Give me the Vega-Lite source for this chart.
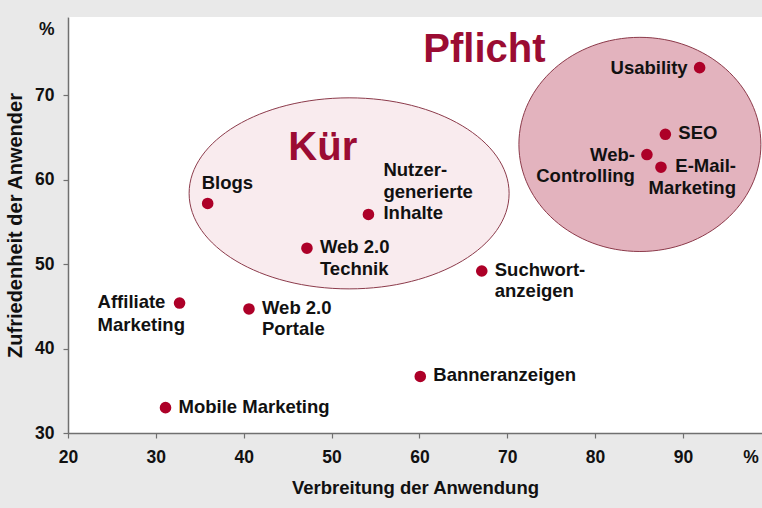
{
  "$schema": "https://vega.github.io/schema/vega-lite/v6.json",
  "width": 694,
  "height": 416,
  "autosize": "none",
  "padding": {"left": 68, "top": 17, "right": 0, "bottom": 75},
  "background": "#e9e9e9",
  "config": {
    "view": {"fill": "white", "stroke": null},
    "font": "Liberation Sans",
    "axis": {
      "domainColor": "#707070", "domainWidth": 1.5,
      "tickColor": "#707070", "tickSize": 5, "tickWidth": 1.2,
      "grid": false,
      "labelFont": "Liberation Sans", "labelFontSize": 17.5, "labelFontWeight": "bold", "labelColor": "#111",
      "titleFont": "Liberation Sans", "titleFontSize": 18.5, "titleFontWeight": "bold", "titleColor": "#111"
    }
  },
  "datasets": {
    "pts": [
      {"name": "Usability", "label": ["Usability"], "x": 91.9, "y": 73.3},
      {"name": "SEO", "label": ["SEO"], "x": 88.0, "y": 65.4},
      {"name": "Web-Controlling", "label": ["Web-", "Controlling"], "x": 85.9, "y": 63.0},
      {"name": "E-Mail-Marketing", "label": ["E-Mail-", "Marketing"], "x": 87.5, "y": 61.5},
      {"name": "Blogs", "label": ["Blogs"], "x": 35.9, "y": 57.2},
      {"name": "Nutzergenerierte Inhalte", "label": ["Nutzer-", "generierte", "Inhalte"], "x": 54.2, "y": 55.9},
      {"name": "Web 2.0 Technik", "label": ["Web 2.0", "Technik"], "x": 47.2, "y": 51.9},
      {"name": "Suchwortanzeigen", "label": ["Suchwort-", "anzeigen"], "x": 67.1, "y": 49.2},
      {"name": "Affiliate Marketing", "label": ["Affiliate", "Marketing"], "x": 32.7, "y": 45.4},
      {"name": "Web 2.0 Portale", "label": ["Web 2.0", "Portale"], "x": 40.6, "y": 44.7},
      {"name": "Banneranzeigen", "label": ["Banneranzeigen"], "x": 60.1, "y": 36.7},
      {"name": "Mobile Marketing", "label": ["Mobile Marketing"], "x": 31.1, "y": 33.0}
    ],
    "groups": [
      {"group": "Kür", "cx": 52.0, "cy": 58.4, "tx": 49.0, "ty": 63.8},
      {"group": "Pflicht", "cx": 85.1, "cy": 64.2, "tx": 67.4, "ty": 75.4}
    ]
  },
  "encoding": {
    "x": {"field": "x", "type": "quantitative", "scale": {"domain": [20, 99], "nice": false, "zero": false},
      "axis": {"title": "Verbreitung der Anwendung", "values": [20, 30, 40, 50, 60, 70, 80, 90, 97.7],
        "labelExpr": "datum.value > 95 ? '%' : datum.label",
        "tickOpacity": {"condition": {"test": "datum.value > 95", "value": 0}, "value": 1},
        "labelPadding": 10, "titlePadding": 13, "labelFlush": false}},
    "y": {"field": "y", "type": "quantitative", "scale": {"domain": [30, 79.3], "nice": false, "zero": false},
      "axis": {"title": "Zufriedenheit der Anwender", "titleFontSize": 20, "values": [30, 40, 50, 60, 70, 77.8],
        "labelExpr": "datum.value > 75 ? '%' : datum.label",
        "tickOpacity": {"condition": {"test": "datum.value > 75", "value": 0}, "value": 1},
        "labelPadding": 9, "titlePadding": 9, "labelFlush": false}}
  },
  "layer": [
    {
      "data": {"name": "groups"},
      "transform": [{"filter": "datum.group == 'Kür'"}],
      "mark": {"type": "point", "filled": true, "shape": "M-1,0A1,0.597,0,1,0,1,0A1,0.597,0,1,0,-1,0Z", "size": 102400, "fill": "#f9ebee", "fillOpacity": 1, "stroke": "#8c3b4b", "strokeWidth": 1, "opacity": 1},
      "encoding": {"x": {"field": "cx", "type": "quantitative"}, "y": {"field": "cy", "type": "quantitative"}}
    },
    {
      "data": {"name": "groups"},
      "transform": [{"filter": "datum.group == 'Pflicht'"}],
      "mark": {"type": "point", "filled": true, "shape": "M-1,0A1,0.885,0,1,0,1,0A1,0.885,0,1,0,-1,0Z", "size": 58564, "fill": "#e3b3be", "fillOpacity": 1, "stroke": "#8c3b4b", "strokeWidth": 1, "opacity": 1},
      "encoding": {"x": {"field": "cx", "type": "quantitative"}, "y": {"field": "cy", "type": "quantitative"}}
    },
    {
      "data": {"name": "groups"},
      "mark": {"type": "text", "fontSize": 40, "fontWeight": "bold", "color": "#9b0c33", "align": "center", "baseline": "middle"},
      "encoding": {"x": {"field": "tx", "type": "quantitative"}, "y": {"field": "ty", "type": "quantitative"}, "text": {"field": "group"}}
    },
    {
      "data": {"name": "pts"},
      "mark": {"type": "point", "filled": true, "shape": "circle", "size": 135, "color": "#ad0028", "opacity": 1},
      "encoding": {}
    },
    {
      "data": {"name": "pts"},
      "transform": [{"filter": {"field": "name", "oneOf": ["SEO", "Web 2.0 Technik", "Suchwortanzeigen", "Web 2.0 Portale", "Banneranzeigen", "Mobile Marketing"]}}],
      "mark": {"type": "text", "fontSize": 18.5, "fontWeight": "bold", "color": "#111", "align": "left", "baseline": "top", "dx": 13, "dy": -10, "lineHeight": 21.5},
      "encoding": {"text": {"field": "label"}}
    },
    {
      "data": {"name": "pts"},
      "transform": [{"filter": {"field": "name", "oneOf": ["Nutzergenerierte Inhalte"]}}],
      "mark": {"type": "text", "fontSize": 18.5, "fontWeight": "bold", "color": "#111", "align": "left", "baseline": "top", "dx": 15, "dy": -53, "lineHeight": 21.5},
      "encoding": {"text": {"field": "label"}}
    },
    {
      "data": {"name": "pts"},
      "transform": [{"filter": {"field": "name", "oneOf": ["Usability", "Web-Controlling"]}}],
      "mark": {"type": "text", "fontSize": 18.5, "fontWeight": "bold", "color": "#111", "align": "right", "baseline": "middle", "dx": -12, "lineHeight": 21.5},
      "encoding": {"text": {"field": "label"}}
    },
    {
      "data": {"name": "pts"},
      "transform": [{"filter": {"field": "name", "oneOf": ["Blogs"]}}],
      "mark": {"type": "text", "fontSize": 18.5, "fontWeight": "bold", "color": "#111", "align": "left", "baseline": "middle", "dx": -6, "dy": -20},
      "encoding": {"text": {"field": "label"}}
    },
    {
      "data": {"name": "pts"},
      "transform": [{"filter": {"field": "name", "oneOf": ["E-Mail-Marketing"]}}],
      "mark": {"type": "text", "fontSize": 18.5, "fontWeight": "bold", "color": "#111", "align": "right", "baseline": "top", "dx": 75, "dy": -10, "lineHeight": 21.5},
      "encoding": {"text": {"field": "label"}}
    },
    {
      "data": {"name": "pts"},
      "transform": [{"filter": {"field": "name", "oneOf": ["Affiliate Marketing"]}}],
      "mark": {"type": "text", "fontSize": 18.5, "fontWeight": "bold", "color": "#111", "align": "left", "baseline": "top", "dx": -82, "dy": -10, "lineHeight": 22.5},
      "encoding": {"text": {"field": "label"}}
    }
  ]
}
